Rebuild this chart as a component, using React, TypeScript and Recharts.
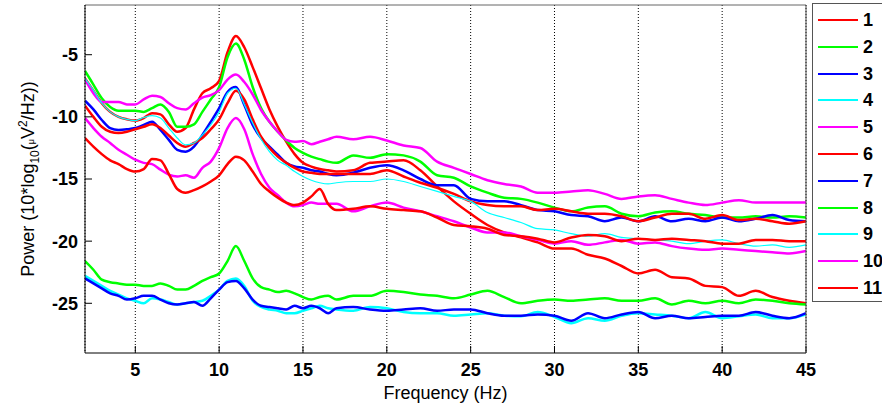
import React from 'react';
import { LineChart, Line, XAxis, YAxis, CartesianGrid, Legend, Label } from 'recharts';

// frequency bins (Hz)
const FREQ = [2, 2.5, 3, 3.5, 4, 4.5, 5, 5.5, 6, 6.5, 7, 7.5, 8, 8.5, 9, 9.5, 10, 10.5, 11, 11.5, 12, 12.5, 13, 13.5, 14, 14.5, 15, 15.5, 16, 16.5, 17,
  18, 19, 20, 21, 22, 23, 24, 25, 26, 27, 28, 29, 30, 31, 32, 33, 34, 35, 36, 37, 38, 39, 40, 41, 42, 43, 44, 45];

const SERIES_NAMES = ['1', '2', '3', '4', '5', '6', '7', '8', '9', '10', '11'];
const SERIES_COLORS = ['#ff0000', '#00ff00', '#0000ff', '#00ffff', '#ff00ff', '#ff0000', '#0000ff', '#00ff00', '#00ffff', '#ff00ff', '#ff0000'];
const SERIES_WIDTHS = [2.5, 2.5, 2.5, 2.5, 2.5, 2.5, 2.5, 2.5, 1.2, 2.5, 2.5];

const P1 = [-6.9, -7.9, -8.9, -9.6, -10.0, -10.2, -10.3, -10.1, -9.7, -9.8, -10.6, -11.2, -10.9, -9.4, -8.1, -7.7, -7.1, -4.8, -3.5, -4.4, -6.0, -7.7, -9.4, -10.8, -12.0, -13.0, -13.7, -14.0, -14.2, -14.3, -14.4,
  -14.3, -13.7, -13.6, -13.5, -14.3, -15.6, -16.8, -17.8, -18.7, -19.3, -19.7, -20.1, -20.6, -20.6, -21.1, -21.4, -22.0, -22.6, -22.3, -22.9, -23.0, -23.6, -23.7, -24.4, -24.0, -24.5, -24.8, -25.0];
const P2 = [-6.3, -7.4, -8.5, -9.2, -9.5, -9.5, -9.5, -9.6, -9.3, -9.0, -9.6, -10.8, -10.8, -10.6, -9.6, -8.6, -7.6, -5.2, -4.1, -5.4, -7.6, -9.3, -10.4, -11.2, -11.9, -12.5, -12.9, -13.2, -13.4, -13.6, -13.7,
  -13.1, -13.3, -13.0, -13.1, -13.6, -14.7, -14.9, -15.6, -16.1, -16.5, -16.6, -16.9, -17.3, -17.6, -17.3, -17.2, -17.8, -18.0, -17.7, -17.6, -17.8, -17.9, -18.1, -18.1, -18.0, -18.1, -18.0, -18.1];
const P3 = [-8.7, -9.4, -10.25, -10.9, -11.05, -11.0, -10.9, -10.65, -10.4, -11.05, -11.85, -12.65, -12.8, -12.4, -11.45, -10.4, -9.3, -8.0, -7.6, -9.05, -10.65, -11.7, -12.4, -13.05, -13.7, -14.0, -14.1, -14.3, -14.4, -14.6, -14.7,
  -14.5, -14.1, -13.9, -14.3, -15.0, -15.5, -15.5, -16.6, -16.8, -16.8, -17.1, -17.5, -17.6, -17.9, -18.0, -18.4, -18.1, -18.4, -18.0, -18.4, -18.2, -18.4, -18.1, -18.4, -18.2, -17.9, -18.3, -18.4];
const P4 = [-22.8, -23.2, -23.6, -24.0, -24.3, -24.6, -24.8, -25.0, -24.6, -24.7, -24.9, -25.1, -25.0, -24.9, -24.8, -24.4, -23.9, -23.2, -23.0, -23.6, -24.8, -25.3, -25.5, -25.6, -25.8, -25.8, -25.6, -25.4, -25.2, -25.4, -25.5,
  -25.6, -25.3, -25.4, -25.7, -25.8, -25.8, -26.0, -25.9, -25.8, -26.0, -26.05, -25.7, -26.1, -26.6, -26.2, -26.4, -26.0, -25.8, -25.9, -26.0, -26.2, -25.7, -26.2, -26.05, -25.9, -26.2, -26.2, -25.9];
const P5 = [-7.0, -8.1, -8.8, -8.8, -8.8, -9.0, -9.0, -8.6, -8.3, -8.4, -8.9, -9.3, -9.4, -8.9, -8.45, -8.25, -7.85, -7.0, -6.6, -7.2, -8.2, -9.45, -10.4, -11.2, -11.85, -12.0, -11.95, -12.2, -12.0, -11.8, -11.6,
  -11.8, -11.6, -11.9, -12.3, -12.5, -13.6, -14.1, -14.6, -15.1, -15.4, -15.6, -16.1, -16.1, -16.0, -15.9, -16.2, -16.6, -16.4, -16.3, -16.6, -16.9, -17.1, -16.9, -16.7, -16.9, -16.9, -16.9, -16.9];
const P6 = [-9.1, -10.0, -10.8, -11.2, -11.3, -11.2, -11.0, -10.8, -10.6, -10.9, -11.5, -12.1, -12.4, -12.1, -11.7, -11.0, -10.2, -8.9, -7.9, -8.6, -10.2, -11.6, -12.5, -13.2, -13.7, -14.1, -14.4, -14.5, -14.6, -14.6, -14.6,
  -14.6, -14.6, -14.3, -14.8, -15.3, -15.7, -16.2, -16.8, -17.1, -17.2, -17.2, -17.5, -17.4, -17.6, -17.8, -17.8, -18.0, -18.4, -18.1, -17.8, -17.8, -18.2, -17.9, -18.3, -18.2, -18.4, -18.6, -18.4];
const P7 = [-23.0, -23.4, -23.8, -24.2, -24.4, -24.7, -24.6, -24.4, -24.4, -24.7, -25.0, -25.1, -25.0, -24.9, -25.2, -24.6, -23.9, -23.3, -23.2, -23.8, -24.7, -25.2, -25.3, -25.4, -25.5, -25.2, -25.4, -25.2, -25.4, -25.8, -25.4,
  -25.3, -25.5, -25.6, -25.5, -25.4, -25.6, -25.5, -25.5, -25.8, -26.0, -26.0, -25.9, -26.0, -26.4, -25.8, -26.2, -25.9, -25.7, -26.2, -26.0, -26.2, -26.1, -26.0, -26.0, -25.7, -26.0, -26.2, -25.8];
const P8 = [-21.6, -22.3, -23.1, -23.3, -23.4, -23.5, -23.5, -23.6, -23.6, -23.4, -23.6, -23.9, -23.9, -23.6, -23.2, -22.9, -22.6, -21.6, -20.4, -21.6, -23.0, -23.7, -23.9, -24.1, -24.0, -24.2, -24.5, -24.7, -24.5, -24.4, -24.7,
  -24.4, -24.4, -24.0, -24.1, -24.3, -24.4, -24.6, -24.3, -24.0, -24.5, -25.0, -24.8, -24.7, -24.8, -24.7, -24.6, -24.8, -24.8, -24.6, -25.1, -24.8, -25.0, -24.8, -25.0, -24.7, -24.8, -25.0, -25.1];
const P9 = [-6.9, -7.85, -8.9, -9.6, -10.0, -10.2, -10.3, -10.05, -9.9, -10.1, -10.9, -11.7, -12.25, -12.1, -11.45, -10.65, -9.6, -8.1, -7.7, -9.0, -10.5, -11.8, -12.8, -13.5, -13.9, -14.4, -14.8, -15.1, -15.3, -15.4, -15.3,
  -15.2, -15.2, -15.0, -15.2, -15.6, -16.0, -16.4, -16.8, -17.7, -18.1, -18.5, -19.0, -19.1, -19.4, -19.6, -19.4, -19.7, -19.8, -19.9, -20.0, -20.2, -20.0, -19.9, -20.2, -20.4, -20.3, -20.5, -20.3];
const P10 = [-10.1, -10.9, -11.6, -12.1, -12.65, -13.05, -13.45, -13.7, -13.8, -14.25, -14.65, -14.8, -14.7, -14.9, -14.1, -13.6, -12.5, -10.9, -10.1, -11.0, -13.0, -14.6, -15.7, -16.3, -16.9, -17.2, -17.1, -16.9, -17.0, -17.0, -17.0,
  -17.6, -17.2, -16.9, -17.3, -17.6, -18.0, -18.4, -18.9, -19.3, -19.3, -19.6, -19.9, -20.2, -20.0, -20.3, -20.1, -19.9, -20.2, -20.1, -20.4, -20.6, -20.7, -20.6, -20.7, -20.8, -20.9, -21.0, -20.8];
const P11 = [-11.7, -12.4, -13.0, -13.5, -13.8, -14.2, -14.4, -14.2, -13.4, -13.5, -14.6, -15.8, -16.1, -15.9, -15.6, -15.2, -14.7, -13.8, -13.2, -13.5, -14.4, -15.4, -16.0, -16.5, -16.9, -17.1, -16.9, -16.4, -15.8, -17.0, -17.5,
  -17.4, -17.2, -17.4, -17.5, -17.6, -18.1, -18.7, -18.8, -19.0, -19.5, -19.6, -19.8, -20.1, -19.7, -19.5, -19.6, -20.0, -19.8, -19.9, -19.8, -19.9, -20.0, -20.2, -20.2, -19.9, -19.9, -20.0, -20.0];

const SERIES = [P1, P2, P3, P4, P5, P6, P7, P8, P9, P10, P11];

const X_TICKS = [5, 10, 15, 20, 25, 30, 35, 40, 45];
const Y_TICKS = [-25, -20, -15, -10, -5];

const FONT = '"Liberation Sans", Arial, Helvetica, sans-serif';

const data = FREQ.map((f, i) => {
  const row: any = { f };
  SERIES.forEach((s, k) => { row['s' + (k + 1)] = s[i]; });
  return row;
});

const tickStyle = { fontFamily: FONT, fontWeight: 'bold', fontSize: 18, fill: '#000' };

const PowerLabel = ({ viewBox }: any) => {
  const cy = viewBox.y + viewBox.height / 2;
  return (
    <text transform={`translate(34,${cy}) rotate(-90)`} textAnchor="middle" fontFamily={FONT} fontSize={18} fill="#000">
      <tspan>Power (10*log</tspan>
      <tspan fontSize={12} dy={5}>10</tspan>
      <tspan dy={-5}>(</tspan>
      <tspan fontSize={9}>μ</tspan>
      <tspan>V</tspan>
      <tspan fontSize={12} dy={-7}>2</tspan>
      <tspan dy={7}>/Hz))</tspan>
    </text>
  );
};

const FreqLabel = ({ viewBox }: any) => (
  <text x={viewBox.x + viewBox.width / 2} y={399} textAnchor="middle" fontFamily={FONT} fontSize={18} fill="#000">
    Frequency (Hz)
  </text>
);

const LegendBox = () => (
  <div style={{ width: 90, height: 299, border: '1px solid #555', background: '#fff', boxSizing: 'border-box', position: 'relative' }}>
    {SERIES_NAMES.map((name, i) => (
      <div key={name} style={{ position: 'absolute', left: 5, top: 6 + i * 26.8, height: 20, display: 'flex', alignItems: 'center' }}>
        <span style={{ display: 'inline-block', width: 40, height: 2, background: SERIES_COLORS[i] }} />
        <span style={{ marginLeft: 5, fontWeight: 'bold', fontSize: 18, fontFamily: FONT, color: '#000', lineHeight: '20px' }}>{name}</span>
      </div>
    ))}
  </div>
);

export default function App() {
  return (
    <div style={{ position: 'absolute', left: 0, top: 0, width: 882, height: 403, overflow: 'hidden', background: '#fff' }}>
      <LineChart width={882} height={403} data={data} margin={{ top: 4, right: 75, bottom: 0, left: 0 }}>
        <CartesianGrid horizontal={false} stroke="#000" strokeDasharray="1 2" />
        <XAxis
          dataKey="f"
          type="number"
          domain={[2, 45]}
          ticks={X_TICKS}
          allowDataOverflow
          height={50}
          tickSize={-7}
          tickMargin={17}
          tick={tickStyle}
          axisLine={{ stroke: '#000' }}
          tickLine={{ stroke: '#000' }}
        >
          <Label content={<FreqLabel />} />
        </XAxis>
        <XAxis
          xAxisId="top"
          orientation="top"
          type="number"
          domain={[2, 45]}
          ticks={X_TICKS}
          allowDataOverflow
          height={1}
          tickSize={-6}
          tick={false}
          axisLine={{ stroke: '#666' }}
          tickLine={{ stroke: '#666' }}
        />
        <YAxis
          type="number"
          domain={[-29, -1]}
          ticks={Y_TICKS}
          allowDataOverflow
          width={85}
          tickSize={-7}
          tickMargin={14}
          tick={tickStyle}
          axisLine={{ stroke: '#000' }}
          tickLine={{ stroke: '#000' }}
        >
          <Label content={<PowerLabel />} />
        </YAxis>
        <YAxis
          yAxisId="right"
          orientation="right"
          type="number"
          domain={[-29, -1]}
          ticks={Y_TICKS}
          allowDataOverflow
          width={1}
          tickSize={-6}
          tick={false}
          axisLine={{ stroke: '#444' }}
          tickLine={{ stroke: '#444' }}
        />
        {SERIES_NAMES.map((name, k) => (
          <Line
            key={name}
            name={name}
            dataKey={'s' + (k + 1)}
            type="monotone"
            stroke={SERIES_COLORS[k]}
            strokeWidth={SERIES_WIDTHS[k]}
            dot={false}
            isAnimationActive={false}
          />
        ))}
        <Legend
          layout="vertical"
          align="center"
          verticalAlign="middle"
          wrapperStyle={{ left: 812, top: 3, width: 90 }}
          content={<LegendBox />}
        />
      </LineChart>
    </div>
  );
}
